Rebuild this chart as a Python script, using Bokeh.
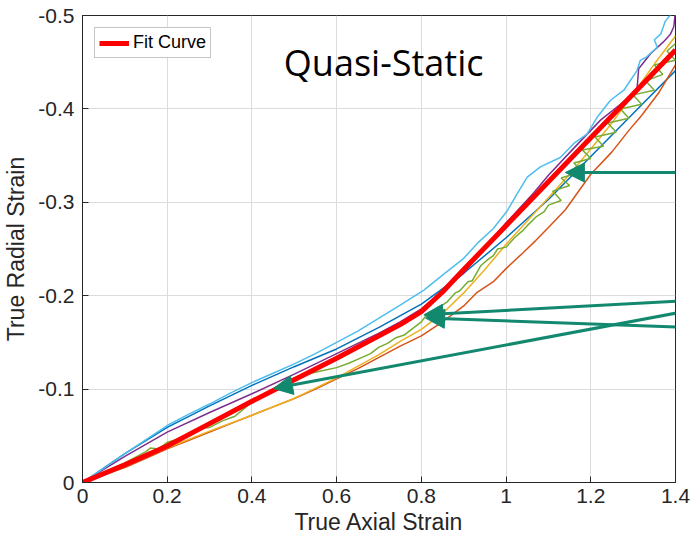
from bokeh.plotting import figure
from bokeh.models import (Range1d, Arrow, NormalHead, Label, Legend, LegendItem,
                          FixedTicker)
from bokeh.embed import file_html
from bokeh.resources import INLINE

# Axis ticks
x_ticks = [0, 0.2, 0.4, 0.6, 0.8, 1.0, 1.2, 1.4]
x_tick_labels = ["0", "0.2", "0.4", "0.6", "0.8", "1", "1.2", "1.4"]
y_ticks = [-0.5, -0.4, -0.3, -0.2, -0.1, 0]
y_tick_labels = ["-0.5", "-0.4", "-0.3", "-0.2", "-0.1", "0"]

# Measured specimens: true axial strain vs true radial strain
blue_x = [0, 0.1, 0.2, 0.3, 0.4, 0.5, 0.6, 0.7, 0.8, 0.9, 1.0, 1.1, 1.2, 1.3, 1.4]
blue_y = [0, -0.031, -0.059, -0.082, -0.104, -0.124, -0.143, -0.166, -0.191,
          -0.224, -0.262, -0.303, -0.349, -0.395, -0.441]

orange_x = [0, 0.05, 0.1, 0.15, 0.2, 0.25, 0.3, 0.35, 0.4, 0.45, 0.5, 0.55, 0.6,
            0.65, 0.7, 0.75, 0.8, 0.85, 0.9, 0.93, 0.97, 1.0, 1.04, 1.07, 1.1,
            1.14, 1.17, 1.2, 1.25, 1.29, 1.32, 1.36, 1.4]
orange_y = [0, -0.008, -0.016, -0.026, -0.036, -0.045, -0.054, -0.063, -0.072,
            -0.081, -0.090, -0.100, -0.111, -0.122, -0.134, -0.146, -0.157,
            -0.172, -0.189, -0.203, -0.215, -0.229, -0.246, -0.259, -0.273,
            -0.292, -0.311, -0.330, -0.354, -0.377, -0.393, -0.417, -0.447]

yellow_x = [0, 0.1, 0.2, 0.3, 0.4, 0.5, 0.6, 0.7, 0.75, 0.8, 0.85, 0.9, 0.95,
            1.0, 1.05, 1.1, 1.15, 1.2, 1.25, 1.3, 1.35, 1.4]
yellow_y = [0, -0.019, -0.037, -0.055, -0.072, -0.090, -0.112, -0.137, -0.151,
            -0.164, -0.181, -0.203, -0.228, -0.255, -0.280, -0.305, -0.330,
            -0.357, -0.385, -0.416, -0.448, -0.478]

purple_x = [0, 0.1, 0.2, 0.3, 0.4, 0.5, 0.6, 0.7, 0.75, 0.8, 0.9, 1.0, 1.065,
            1.1, 1.16, 1.223, 1.27, 1.309, 1.313, 1.341, 1.372, 1.388, 1.396,
            1.4]
purple_y = [0, -0.028, -0.054, -0.075, -0.095, -0.116, -0.138, -0.160, -0.172,
            -0.186, -0.224, -0.278, -0.310, -0.329, -0.358, -0.388, -0.405,
            -0.420, -0.443, -0.459, -0.472, -0.480, -0.488, -0.505]

green_x = [0, 0.05, 0.1, 0.15, 0.16, 0.18, 0.2, 0.23, 0.25, 0.28, 0.3, 0.33,
           0.36, 0.4, 0.44, 0.47, 0.5, 0.53, 0.56, 0.6, 0.63, 0.66, 0.68, 0.7,
           0.72, 0.74, 0.76, 0.78, 0.8, 0.81, 0.83, 0.85, 0.86, 0.88, 0.89,
           0.91, 0.92, 0.94, 0.955, 0.97, 0.98, 1.0, 1.02, 1.04, 1.05, 1.07,
           1.09, 1.1, 1.13, 1.11, 1.15, 1.13, 1.18, 1.16, 1.2, 1.18, 1.23, 1.21,
           1.26, 1.24, 1.29, 1.27, 1.32, 1.3, 1.35, 1.33, 1.37, 1.35, 1.4, 1.38,
           1.4]
green_y = [0, -0.011, -0.021, -0.033, -0.037, -0.036, -0.043, -0.047, -0.050,
           -0.058, -0.059, -0.066, -0.071, -0.086, -0.096, -0.104, -0.112,
           -0.116, -0.119, -0.123, -0.128, -0.134, -0.138, -0.145, -0.149,
           -0.155, -0.158, -0.165, -0.172, -0.178, -0.181, -0.190, -0.193,
           -0.203, -0.205, -0.215, -0.216, -0.232, -0.238, -0.243, -0.250,
           -0.252, -0.262, -0.270, -0.275, -0.284, -0.290, -0.297, -0.302,
           -0.312, -0.318, -0.326, -0.333, -0.342, -0.347, -0.356, -0.360,
           -0.370, -0.375, -0.385, -0.390, -0.400, -0.405, -0.415, -0.420,
           -0.430, -0.437, -0.447, -0.452, -0.462, -0.470]

lightblue_x = [0, 0.05, 0.1, 0.15, 0.2, 0.25, 0.3, 0.35, 0.4, 0.45, 0.5, 0.55,
               0.6, 0.65, 0.7, 0.75, 0.806, 0.85, 0.9, 0.932, 0.97, 1.003,
               1.026, 1.05, 1.081, 1.128, 1.16, 1.191, 1.215, 1.246, 1.278,
               1.309, 1.317, 1.33, 1.357, 1.35, 1.365, 1.376, 1.396]
lightblue_y = [0, -0.015, -0.031, -0.046, -0.061, -0.073, -0.084, -0.096,
               -0.107, -0.117, -0.127, -0.138, -0.150, -0.162, -0.176, -0.190,
               -0.206, -0.222, -0.240, -0.256, -0.272, -0.291, -0.309, -0.327,
               -0.338, -0.348, -0.363, -0.373, -0.391, -0.409, -0.420, -0.441,
               -0.452, -0.455, -0.466, -0.474, -0.480, -0.494, -0.505]

# Fitted curve
fit_x = [0, 0.1, 0.2, 0.3, 0.4, 0.5, 0.6, 0.65, 0.7, 0.75, 0.8, 0.85, 0.9, 1.0,
         1.1, 1.2, 1.3, 1.4]
fit_y = [0, -0.019, -0.039, -0.063, -0.087, -0.110, -0.133, -0.145, -0.157,
         -0.169, -0.183, -0.204, -0.228, -0.275, -0.322, -0.369, -0.416,
         -0.463]

TEXT = "#262626"
FONT = "Liberation Sans"

p = figure(frame_width=593, frame_height=467,
           min_border_left=82, min_border_right=15,
           min_border_top=15, min_border_bottom=61,
           x_range=Range1d(0, 1.4), y_range=Range1d(0, -0.5),
           output_backend="svg", toolbar_location=None,
           background_fill_color="white", border_fill_color="white")

p.outline_line_color = TEXT
p.outline_line_width = 1
p.grid.grid_line_color = "#dcdcdc"
p.grid.grid_line_width = 1

p.xaxis.ticker = FixedTicker(ticks=x_ticks)
p.yaxis.ticker = FixedTicker(ticks=y_ticks)
p.xaxis.major_label_overrides = dict(zip(x_ticks, x_tick_labels))
p.yaxis.major_label_overrides = dict(zip(y_ticks, y_tick_labels))
p.xgrid.ticker = FixedTicker(ticks=x_ticks)
p.ygrid.ticker = FixedTicker(ticks=y_ticks)

for ax in (p.xaxis, p.yaxis):
    ax.axis_line_color = TEXT
    ax.major_tick_line_color = TEXT
    ax.major_tick_in = 6
    ax.major_tick_out = 0
    ax.minor_tick_line_color = None
    ax.major_label_text_font = FONT
    ax.major_label_text_font_size = "21px"
    ax.major_label_text_color = TEXT
    ax.axis_label_text_font = FONT
    ax.axis_label_text_font_size = "23px"
    ax.axis_label_text_font_style = "normal"
    ax.axis_label_text_color = TEXT

p.xaxis.axis_label = "True Axial Strain"
p.yaxis.axis_label = "True Radial Strain"
p.xaxis.major_label_standoff = 6
p.yaxis.major_label_standoff = 8
p.xaxis.axis_label_standoff = 3
p.yaxis.axis_label_standoff = 6

# specimen curves, MATLAB default colour order
series = [
    (blue_x, blue_y, "#0072BD"),
    (orange_x, orange_y, "#D95319"),
    (yellow_x, yellow_y, "#EDB120"),
    (purple_x, purple_y, "#7E2F8E"),
    (green_x, green_y, "#77AC30"),
    (lightblue_x, lightblue_y, "#4DBEEE"),
]
for xs, ys, col in series:
    p.line(xs, ys, line_color=col, line_width=1.5)

fit = p.line(fit_x, fit_y, line_color="#FF0000", line_width=5)

legend = Legend(items=[LegendItem(label="Fit Curve", renderers=[fit])],
                location="top_left", margin=12, padding=4, spacing=0,
                glyph_width=30, glyph_height=20, label_height=20,
                label_standoff=4, label_text_font=FONT,
                label_text_font_size="18px", label_text_color="black",
                border_line_color="#8c8c8c", border_line_width=1,
                background_fill_color="white", background_fill_alpha=1)
p.add_layout(legend)

p.add_layout(Label(x=0.711, y=-0.4497, text="Quasi-Static",
                   text_font="Open Sans", text_font_size="36px",
                   text_color="black", text_align="center",
                   text_baseline="alphabetic"))

ARROW = "#12896F"
arrows = [
    (1.435, -0.3319, 1.140, -0.3319),
    (1.435, -0.1949, 0.806, -0.1795),
    (1.435, -0.1660, 0.810, -0.1760),
    (1.435, -0.1842, 0.451, -0.1006),
]
for xs_, ys_, xe, ye in arrows:
    p.add_layout(Arrow(x_start=xs_, y_start=ys_, x_end=xe, y_end=ye,
                       line_color=ARROW, line_width=3,
                       end=NormalHead(size=19, fill_color=ARROW,
                                      line_color=ARROW, line_width=1)))

open("out.html", "w").write(file_html(p, INLINE))
